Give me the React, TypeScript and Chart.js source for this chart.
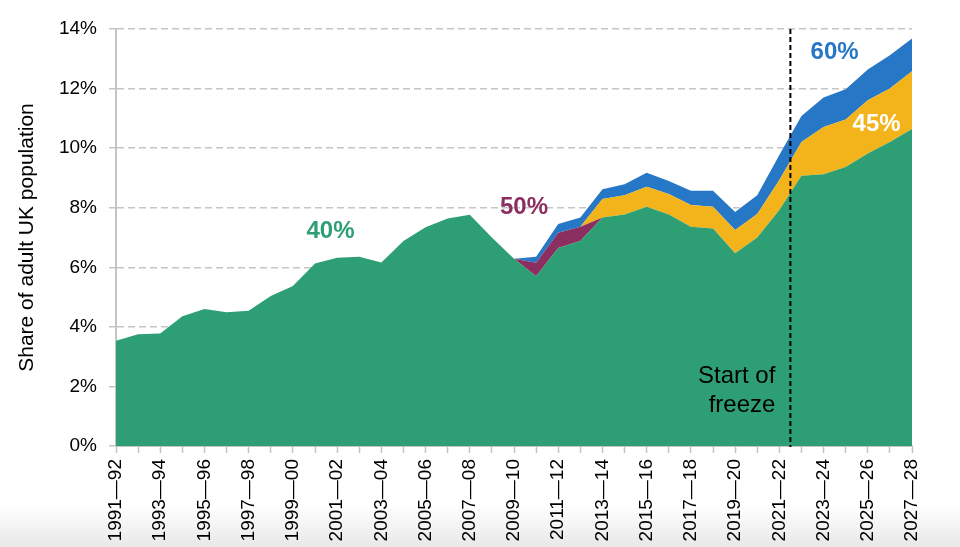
import React, { useEffect, useRef } from "react";
import { Chart, registerables } from "chart.js";

Chart.register(...registerables);

const FONT = "'Liberation Sans', Arial, Helvetica, sans-serif";

const years = [
  "1991—92", "1992—93", "1993—94", "1994—95", "1995—96", "1996—97", "1997—98",
  "1998—99", "1999—00", "2000—01", "2001—02", "2002—03", "2003—04", "2004—05",
  "2005—06", "2006—07", "2007—08", "2008—09", "2009—10", "2010—11", "2011—12",
  "2012—13", "2013—14", "2014—15", "2015—16", "2016—17", "2017—18", "2018—19",
  "2019—20", "2020—21", "2021—22", "2022—23", "2023—24", "2024—25", "2025—26",
  "2026—27", "2027—28",
];

// share of adults paying each marginal rate, percentage points (stacked)
const rate40 = [
  3.53, 3.75, 3.78, 4.36, 4.6, 4.49, 4.54, 5.04, 5.37, 6.13, 6.32, 6.35, 6.16,
  6.88, 7.34, 7.64, 7.76, 7.0, 6.29, 5.7, 6.65, 6.88, 7.67, 7.77, 8.03, 7.77,
  7.36, 7.3, 6.47, 7.0, 7.92, 9.07, 9.12, 9.37, 9.82, 10.21, 10.64,
];
const rate50 = [
  0, 0, 0, 0, 0, 0, 0, 0, 0, 0, 0, 0, 0, 0, 0, 0, 0, 0, 0, 0.45, 0.51, 0.48, 0,
  0, 0, 0, 0, 0, 0, 0, 0, 0, 0, 0, 0, 0, 0,
];
const rate45 = [
  0, 0, 0, 0, 0, 0, 0, 0, 0, 0, 0, 0, 0, 0, 0, 0, 0, 0, 0, 0, 0, 0, 0.62, 0.65,
  0.67, 0.69, 0.73, 0.73, 0.78, 0.79, 1.01, 1.14, 1.59, 1.59, 1.79, 1.79, 1.94,
];
const rate60 = [
  0, 0, 0, 0, 0, 0, 0, 0, 0, 0, 0, 0, 0, 0, 0, 0, 0, 0, 0, 0.2, 0.29, 0.31,
  0.33, 0.37, 0.47, 0.44, 0.48, 0.54, 0.61, 0.63, 0.84, 0.87, 0.99, 1.02, 1.03,
  1.12, 1.1,
];

const GREEN = "#2e9f74";
const PURPLE = "#8b2f61";
const YELLOW = "#f2b41a";
const BLUE = "#2777c7";

// freeze starts between 2021–22 and 2022–23
const freezeAt = 30.5;

const seriesLabels = [
  { text: "40%", x: 9.7, y: 7.2, color: GREEN },
  { text: "50%", x: 18.45, y: 8.0, color: PURPLE },
  { text: "60%", x: 32.5, y: 13.2, color: BLUE },
  { text: "45%", x: 34.4, y: 10.8, color: "#ffffff" },
];

const annotations = {
  id: "annotations",
  afterDatasetsDraw(chart: any) {
    const { ctx } = chart;
    const x = chart.scales.x;
    const y = chart.scales.y;
    ctx.save();

    const fx = x.getPixelForValue(freezeAt);
    ctx.strokeStyle = "#000";
    ctx.lineWidth = 2;
    ctx.setLineDash([5, 3]);
    ctx.beginPath();
    ctx.moveTo(fx, y.top);
    ctx.lineTo(fx, y.bottom + 1);
    ctx.stroke();
    ctx.setLineDash([]);

    ctx.fillStyle = "#000";
    ctx.font = `24px ${FONT}`;
    ctx.textAlign = "right";
    ctx.textBaseline = "middle";
    ctx.fillText("Start of", fx - 15, y.getPixelForValue(2.35));
    ctx.fillText("freeze", fx - 15, y.getPixelForValue(1.38));

    ctx.font = `bold 24px ${FONT}`;
    ctx.textAlign = "center";
    seriesLabels.forEach((l) => {
      ctx.fillStyle = l.color;
      ctx.fillText(l.text, x.getPixelForValue(l.x), y.getPixelForValue(l.y));
    });
    ctx.restore();
  },
};

const area = (label: string, data: number[], color: string, fill: any) => ({
  label,
  data,
  backgroundColor: color,
  borderColor: color,
  borderWidth: 0,
  pointRadius: 0,
  tension: 0,
  fill,
});

export default function App() {
  const canvasRef = useRef<HTMLCanvasElement>(null);

  useEffect(() => {
    if (!canvasRef.current) return;
    const chart = new Chart(canvasRef.current, {
      type: "line",
      data: {
        labels: years,
        datasets: [
          area("40%", rate40, GREEN, "origin"),
          area("50%", rate50, PURPLE, "-1"),
          area("45%", rate45, YELLOW, "-1"),
          area("60%", rate60, BLUE, "-1"),
        ],
      },
      options: {
        animation: false,
        responsive: true,
        maintainAspectRatio: false,
        layout: { padding: { top: 29, right: 48, left: 0, bottom: 0 } },
        plugins: {
          legend: { display: false },
          tooltip: { enabled: false },
        },
        scales: {
          x: {
            stacked: true,
            grid: {
              display: true,
              drawOnChartArea: false,
              drawTicks: true,
              tickLength: 7,
              tickColor: "#c4c4c4",
              tickWidth: 1.5,
            },
            border: { color: "#c4c4c4", width: 2 },
            ticks: {
              autoSkip: false,
              minRotation: 90,
              maxRotation: 90,
              padding: 6,
              color: "#000",
              font: { family: FONT, size: 19 },
              callback: (_v: any, i: number) => (i % 2 === 0 ? years[i] : ""),
            },
            afterFit: (s: any) => {
              s.height = 101;
            },
          },
          y: {
            stacked: true,
            min: 0,
            max: 14,
            grid: {
              color: "#c6c6c6",
              lineWidth: 1.5,
              tickLength: 7,
              tickColor: "#c4c4c4",
            },
            border: { color: "#c4c4c4", width: 2, dash: [7, 4] },
            ticks: {
              stepSize: 2,
              padding: 12,
              color: "#000",
              font: { family: FONT, size: 19 },
              callback: (v: any) => v + "%",
            },
            title: {
              display: true,
              text: "Share of adult UK population",
              color: "#000",
              font: { family: FONT, size: 21 },
              padding: { top: 15, bottom: 0 },
            },
            afterFit: (s: any) => {
              s.width = 116;
            },
          },
        },
      },
      plugins: [annotations],
    });
    return () => chart.destroy();
  }, []);

  return (
    <div
      style={{
        position: "fixed",
        left: 0,
        top: 0,
        width: 960,
        height: 547,
        background:
          "linear-gradient(to bottom, #ffffff 0px, #ffffff 505px, #e8e8e8 547px)",
      }}
    >
      <canvas ref={canvasRef} />
    </div>
  );
}
